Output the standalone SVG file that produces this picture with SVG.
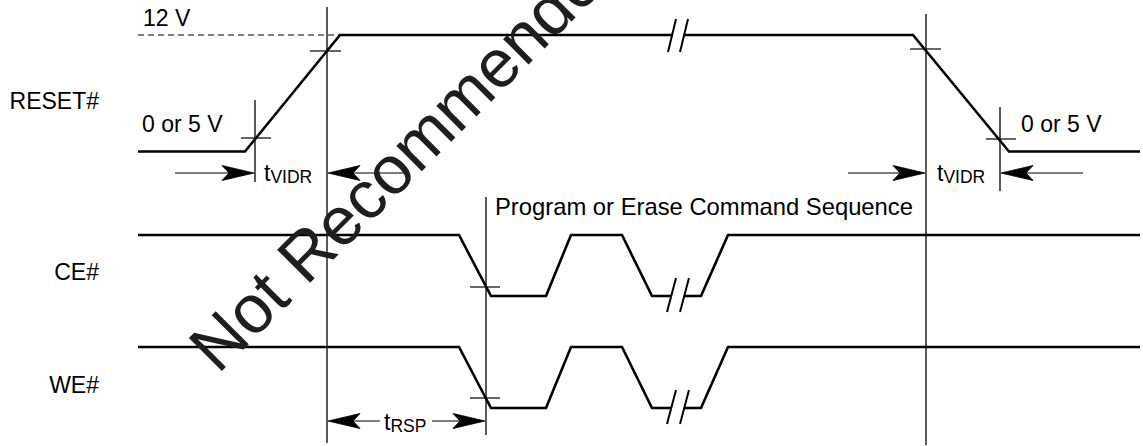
<svg xmlns="http://www.w3.org/2000/svg" width="1143" height="446" viewBox="0 0 1143 446">
<style>
text{font-family:"Liberation Sans",Arial,Helvetica,sans-serif;fill:#000}
.lbl{font-size:23px}
.big{font-size:23.8px}
.sub{font-size:17.5px}
.sig{fill:none;stroke:#000;stroke-width:2.6;stroke-linejoin:miter}
.ref{stroke:#000;stroke-width:1.3;fill:none}
.tick{stroke:#000;stroke-width:1.2;fill:none}
.brk{stroke:#000;stroke-width:2;fill:none}
.arr{stroke:#000;stroke-width:1.2;fill:none}
.head{fill:#000;stroke:#000;stroke-width:0.8;stroke-linejoin:miter}
.wm{font-size:68px;fill:#1e1e1e}
</style>
<defs>
<path id="ah" d="M0,0 L-32,-7.5 L-25,0 L-32,7.5 Z"/>
</defs>
<rect width="1143" height="446" fill="#fff"/>

<g id="labels">
<text class="lbl" x="99" y="109" text-anchor="end">RESET#</text>
<text class="lbl" x="99" y="280" text-anchor="end">CE#</text>
<text class="lbl" x="99" y="393" text-anchor="end">WE#</text>
<text class="lbl" x="143" y="26">12 V</text>
<text class="lbl" x="142" y="132">0 or 5 V</text>
<text class="lbl" x="1021" y="132">0 or 5 V</text>
<text class="lbl big" x="495" y="215">Program or Erase Command Sequence</text>
<text class="lbl" x="264" y="181">t<tspan class="sub" dy="2">VIDR</tspan></text>
<text class="lbl" x="937" y="181">t<tspan class="sub" dy="2">VIDR</tspan></text>
<text class="lbl" x="384" y="430">t<tspan class="sub" dy="2">RSP</tspan></text>
</g>

<g id="reset-signal">
<line x1="138" y1="35" x2="340" y2="35" stroke="#000" stroke-width="1.2" stroke-dasharray="6,4"/>
<polyline class="sig" points="138,151.5 245,151.5 340,35 672,35"/>
<polyline class="sig" points="684,35 913,35 1009,151.5 1140,151.5"/>
<line class="brk" x1="668" y1="52" x2="676" y2="19"/>
<line class="brk" x1="680" y1="52" x2="688" y2="19"/>
</g>

<g id="ce-signal">
<polyline class="sig" points="138,235 459,235 491,296 546,296 571,235 622,235 652,296 671.5,296"/>
<polyline class="sig" points="684.5,296 701,296 728,235 1140,235"/>
<line class="brk" x1="667" y1="312" x2="676" y2="278"/>
<line class="brk" x1="680" y1="312" x2="689" y2="278"/>
</g>

<g id="we-signal">
<polyline class="sig" points="138,347 459,347 491,408 546,408 571,347 622,347 652,408 671.5,408"/>
<polyline class="sig" points="684.5,408 701,408 728,347 1140,347"/>
<line class="brk" x1="667" y1="424" x2="676" y2="390"/>
<line class="brk" x1="680" y1="424" x2="689" y2="390"/>
</g>

<g id="reference-lines">
<line class="ref" x1="255" y1="100" x2="255" y2="182"/>
<line class="ref" x1="327" y1="7" x2="327" y2="443"/>
<line class="ref" x1="486" y1="197" x2="486" y2="435"/>
<line class="ref" x1="926" y1="14" x2="926" y2="445"/>
<line class="ref" x1="1000" y1="107" x2="1000" y2="191"/>
<line class="tick" x1="241" y1="138" x2="271" y2="138"/>
<line class="tick" x1="310" y1="51" x2="341" y2="51"/>
<line class="tick" x1="910" y1="49" x2="941" y2="49"/>
<line class="tick" x1="986" y1="139" x2="1016" y2="139"/>
<line class="tick" x1="470" y1="287" x2="500" y2="287"/>
<line class="tick" x1="470" y1="398" x2="500" y2="398"/>
</g>

<g id="connectors">
<line class="arr" x1="175" y1="173" x2="235" y2="173"/>
<use href="#ah" class="head" transform="translate(254,173)"/>
<line class="arr" x1="407" y1="173" x2="347" y2="173"/>
<use href="#ah" class="head" transform="translate(328,173) rotate(180)"/>
<line class="arr" x1="848" y1="173" x2="906" y2="173"/>
<use href="#ah" class="head" transform="translate(925,173)"/>
<line class="arr" x1="1083" y1="173" x2="1020" y2="173"/>
<use href="#ah" class="head" transform="translate(1001,173) rotate(180)"/>
<line class="arr" x1="380" y1="421" x2="347" y2="421"/>
<use href="#ah" class="head" transform="translate(328,421) rotate(180)"/>
<line class="arr" x1="432" y1="421" x2="466" y2="421"/>
<use href="#ah" class="head" transform="translate(485,421)"/>
</g>

<g id="watermark">
<text class="wm" transform="translate(218,375) rotate(-45)">Not Recommended</text>
</g>
</svg>
